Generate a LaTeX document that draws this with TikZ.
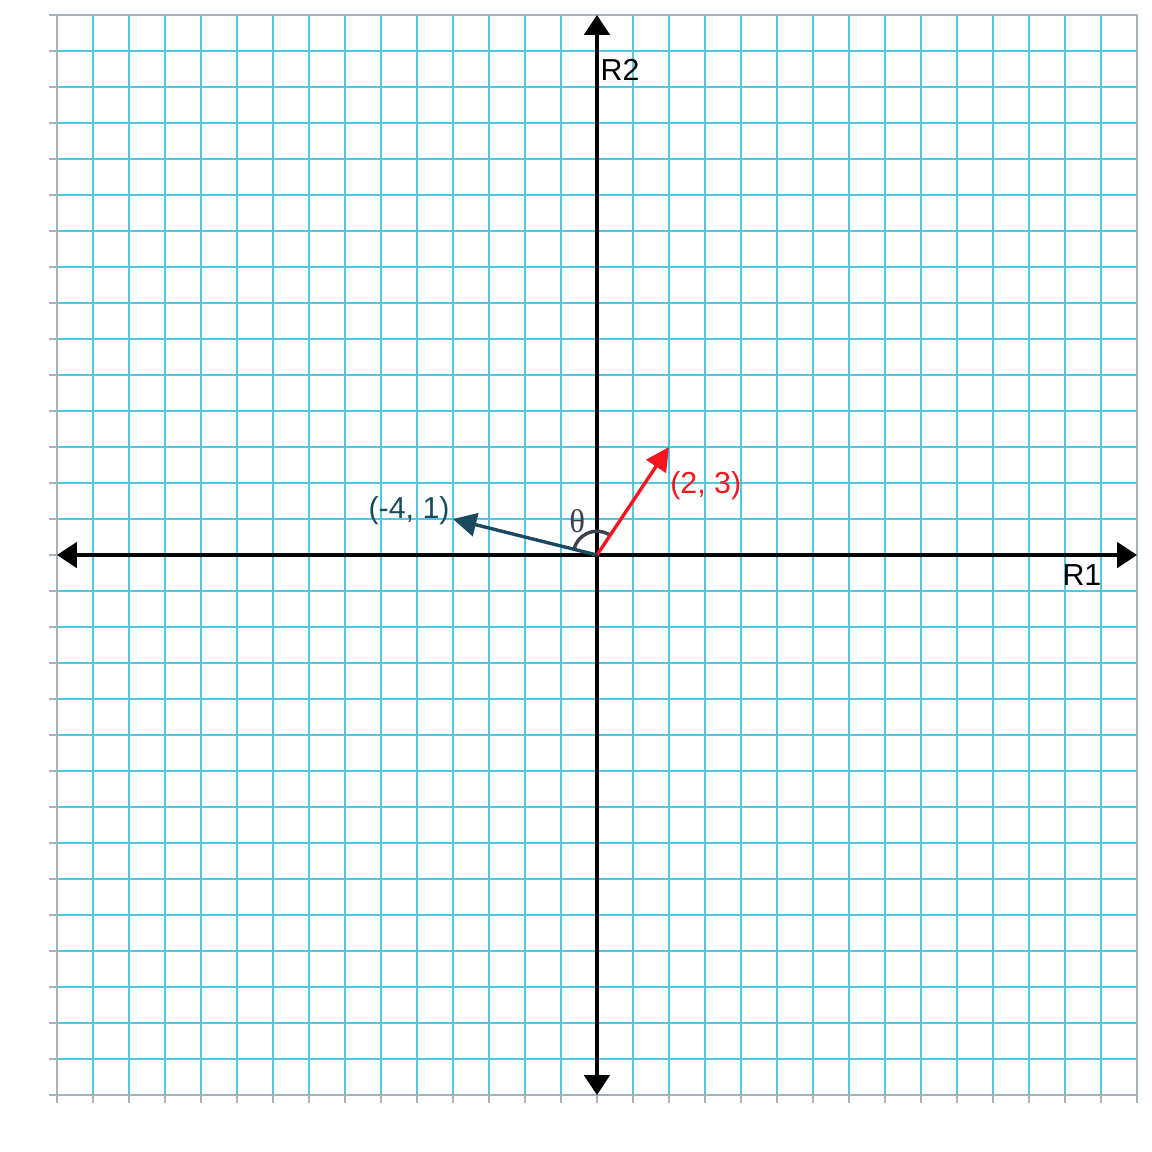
\documentclass[tikz,border=0pt]{standalone}
\usepackage{fontspec}
\setmainfont{Liberation Sans}
\newfontfamily\thetafont{Liberation Serif}
\usetikzlibrary{positioning, arrows.meta}
\definecolor{gridcyan}{RGB}{82,198,230}
\definecolor{framegray}{RGB}{166,178,184}
\definecolor{vecred}{RGB}{245,22,32}
\definecolor{vecteal}{RGB}{26,74,94}
\definecolor{arcslate}{RGB}{58,64,82}

\begin{document}
\begin{tikzpicture}
[
    axis_line/.style={line width=3pt, color=black, {Triangle[length=5.5mm, width=7mm]}-{Triangle[length=5.5mm, width=7mm]}},
    vec_line/.style={line width=2.7pt, -{Triangle[length=6.5mm, width=6.5mm]}},
    text_label/.style={font=\fontsize{24}{28}\selectfont, inner sep=0pt},
]
    \useasboundingbox (-16.583,-16.583) rectangle (15.417,15.417) ;
    % grid
    \draw[gridcyan, line width=0.9pt] (-15,-15) grid (15,15) ;
    \foreach \k in {-15,...,15} {
        \draw[framegray, line width=1pt] (-15.22,\k) -- (-15,\k) ;
        \draw[framegray, line width=1pt] (\k,-15) -- (\k,-15.22) ;
    }
    \draw[framegray, line width=1.3pt] (-15,-15) rectangle (15,15) ;
    % axes
    \coordinate (O) at (0,0) ;
    \coordinate (west) at (-15,0) ;
    \coordinate (east) at (15,0) ;
    \coordinate (south) at (0,-15) ;
    \coordinate (north) at (0,15) ;
    \draw[axis_line] (west) -- (east) ;
    \draw[axis_line] (south) -- (north) ;
    \node[text_label] (r1) at (13.47,-0.56) {R1} ;
    \node[text_label] (r2) at (0.64,13.47) {R2} ;
    % vectors
    \coordinate (u) at (2,3) ;
    \coordinate (v) at (-4,1) ;
    \draw[line width=2.7pt, color=arcslate] (56:0.66) arc[start angle=56, end angle=164, radius=0.66] ;
    \draw[vec_line, color=vecred] (O) -- (u) ;
    \draw[vec_line, color=vecteal] (O) -- (v) ;
    \node[text_label, color=vecred] (ulabel) at (3.02,1.94) {(2, 3)} ;
    \node[text_label, color=vecteal] (vlabel) at (-5.22,1.22) {(-4, 1)} ;
    \node[text_label, color=arcslate] (theta) at (-0.55,0.95) {\fontsize{26}{30}\thetafont θ} ;
\end{tikzpicture}
\end{document}
